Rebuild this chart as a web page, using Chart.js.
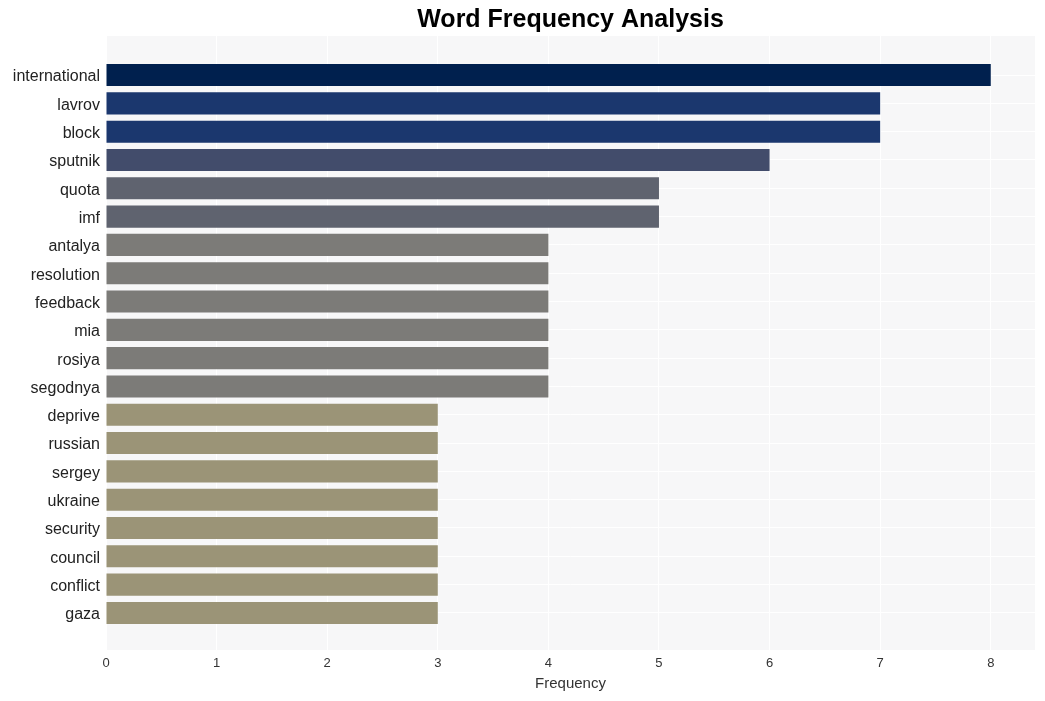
<!DOCTYPE html>
<html>
<head>
<meta charset="utf-8">
<script src="https://cdn.jsdelivr.net/npm/chart.js@4/dist/chart.umd.min.js"></script>
<style>
  html, body { margin: 0; padding: 0; background: #ffffff; }
  #wrap { width: 1045px; height: 701px; }
</style>
</head>
<body>
<div id="wrap"><canvas id="freqChart" width="1045" height="701"></canvas></div>
<script>
const words = ["international", "lavrov", "block", "sputnik", "quota", "imf", "antalya",
  "resolution", "feedback", "mia", "rosiya", "segodnya", "deprive", "russian", "sergey",
  "ukraine", "security", "council", "conflict", "gaza"];
const counts = [8, 7, 7, 6, 5, 5, 4, 4, 4, 4, 4, 4, 3, 3, 3, 3, 3, 3, 3, 3];
const xTicks = [0, 1, 2, 3, 4, 5, 6, 7, 8];

function barColor(v) {
  if (v >= 8) return "#00204e";
  if (v >= 7) return "#1b376e";
  if (v >= 6) return "#424c6b";
  if (v >= 5) return "#5f636f";
  if (v >= 4) return "#7c7b78";
  return "#9b9477";
}

// plot background + title centred over the plot area
const plotBg = {
  id: "plotBg",
  beforeDraw(chart) {
    const a = chart.chartArea, ctx = chart.ctx;
    ctx.save();
    ctx.fillStyle = "#f7f7f8";
    ctx.fillRect(a.left, a.top, a.right - a.left, a.bottom - a.top);
    ctx.restore();
  },
  afterDraw(chart) {
    const a = chart.chartArea, ctx = chart.ctx;
    ctx.save();
    ctx.fillStyle = "#000000";
    ctx.font = "bold 25px 'Liberation Sans', Arial, sans-serif";
    ctx.textAlign = "center";
    ctx.textBaseline = "middle";
    ctx.fillText("Word Frequency Analysis", (a.left + a.right) / 2, 20);
    ctx.restore();
  }
};

function loadFreqChart() {
  const canvas = document.getElementById("freqChart");
  if (!canvas) return;

  new Chart(canvas, {
    type: "bar",
    data: {
      datasets: [{
        label: "Frequency",
        data: counts.map((c, i) => ({ x: c, y: i })),
        backgroundColor: counts.map(barColor),
        borderWidth: 0,
        categoryPercentage: 1,
        barPercentage: 0.78
      }]
    },
    options: {
      indexAxis: "y",
      responsive: false,
      animation: false,
      layout: { padding: { top: 36, right: 10, left: 0, bottom: 8 } },
      plugins: {
        legend: { display: false },
        tooltip: { enabled: false }
      },
      scales: {
        x: {
          type: "linear",
          min: 0,
          max: 8.4,
          afterBuildTicks(scale) { scale.ticks = xTicks.map(v => ({ value: v })); },
          afterFit(scale) { scale.height = 43; },
          grid: { color: "#ffffff", lineWidth: 1, drawTicks: false },
          border: { display: false },
          ticks: {
            padding: 6,
            color: "#333333",
            font: { size: 13, family: "'Liberation Sans', Arial, sans-serif" }
          },
          title: {
            display: true,
            text: "Frequency",
            color: "#333333",
            padding: { top: 2, bottom: 0 },
            font: { size: 15, family: "'Liberation Sans', Arial, sans-serif" }
          }
        },
        y: {
          type: "linear",
          reverse: true,
          offset: false,
          min: -1.38,
          max: 20.31,
          afterBuildTicks(scale) { scale.ticks = words.map((_, i) => ({ value: i })); },
          afterFit(scale) { scale.width = 106; },
          grid: { color: "#ffffff", lineWidth: 1, drawTicks: false, offset: false },
          border: { display: false },
          ticks: {
            padding: 6,
            autoSkip: false,
            labelOffset: 2,
            color: "#222222",
            font: { size: 16, family: "'Liberation Sans', Arial, sans-serif" },
            callback: (v) => words[v] ?? ""
          }
        }
      }
    },
    plugins: [plotBg]
  });
}

loadFreqChart();
</script>
</body>
</html>
